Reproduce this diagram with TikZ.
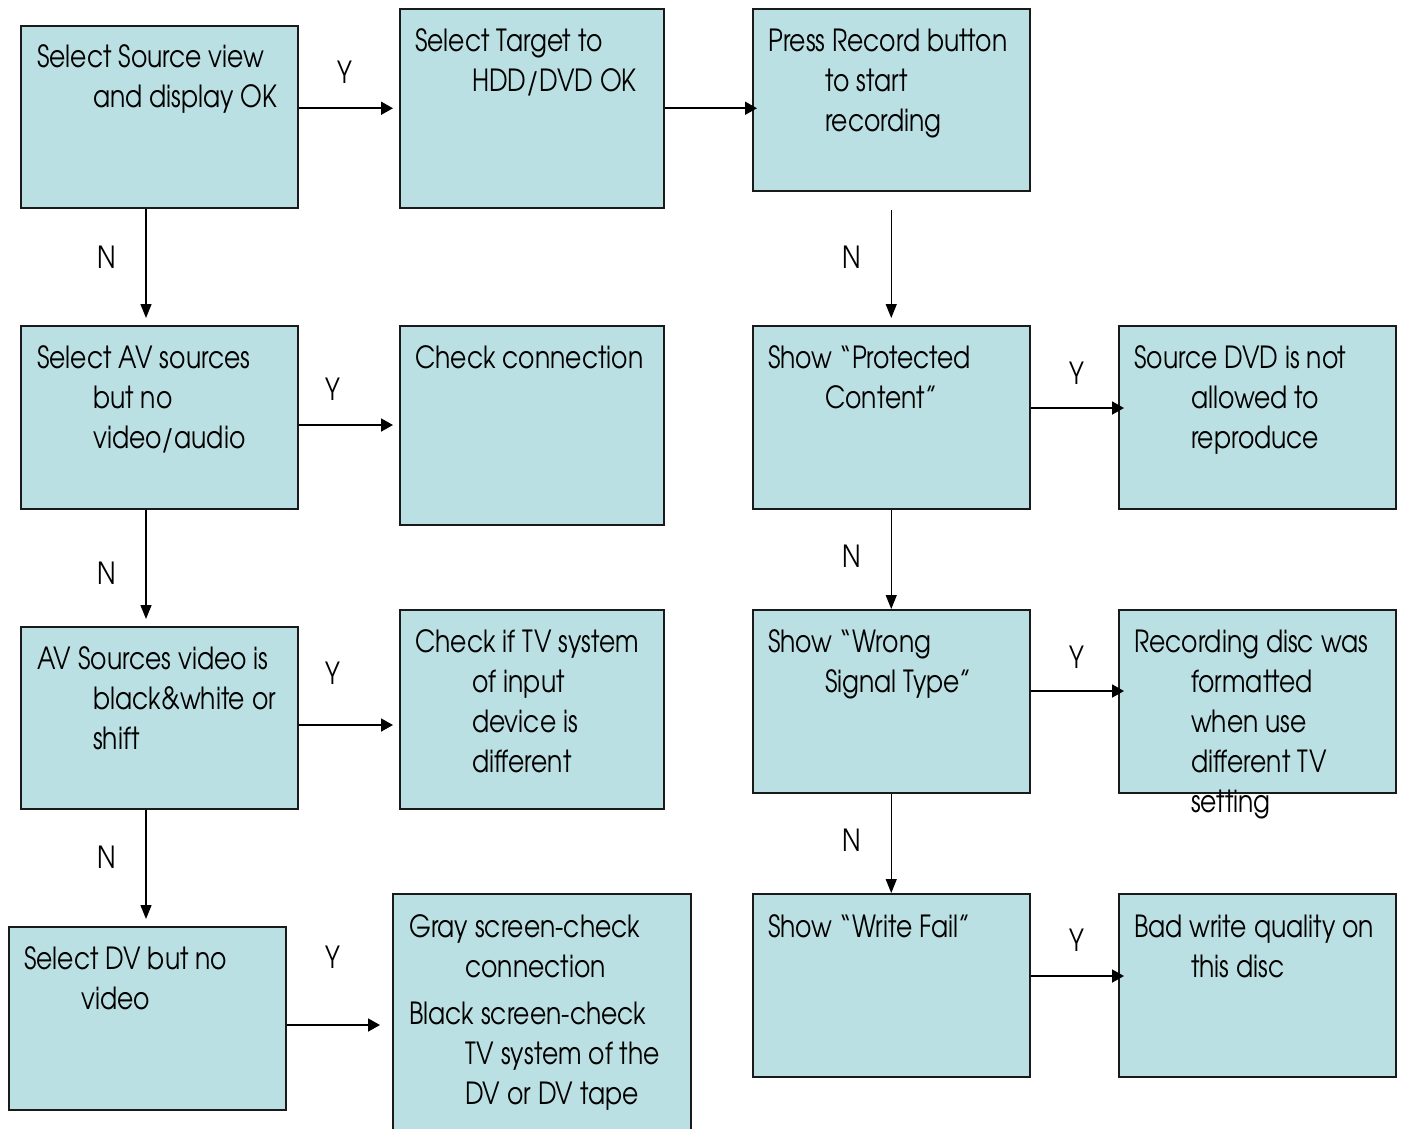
\documentclass[tikz,border=0pt]{standalone}
\usepackage{fontspec}
\setmainfont{TeX Gyre Adventor}[FakeStretch=0.82]
\usetikzlibrary{arrows.meta}
\definecolor{boxfill}{HTML}{BBE0E3}
\definecolor{boxline}{HTML}{1A1A1A}
\tikzset{
  box/.style={draw=boxline, fill=boxfill, line width=1.5pt, inner sep=0pt, anchor=north west},
  txt/.style={anchor=north west, inner sep=0pt, align=left, font=\fontsize{30.5}{40}\selectfont, text=black},
  lbl/.style={inner sep=0pt, font=\fontsize{30.5}{40}\selectfont, text=black},
  harr/.style={draw=black, line width=1.8pt, -{Triangle[length=12pt,width=13pt]}},
  varr/.style={draw=black, line width=1.3pt, -{Triangle[length=14pt,width=11pt]}}
}
\begin{document}
\begin{tikzpicture}[x=1pt,y=-1pt]
\useasboundingbox (0,0) rectangle (1403,1128);
\clip (0,0) rectangle (1403,1128);
% boxes
\node[box, minimum width=277pt, minimum height=182pt] (a1) at (20,25) {};
\node[box, minimum width=264pt, minimum height=199pt] (a2) at (399,8) {};
\node[box, minimum width=277pt, minimum height=182pt] (a3) at (752,8) {};
\node[box, minimum width=277pt, minimum height=183pt] (b1) at (20,325) {};
\node[box, minimum width=264pt, minimum height=199pt] (b2) at (399,325) {};
\node[box, minimum width=277pt, minimum height=183pt] (b3) at (752,325) {};
\node[box, minimum width=277pt, minimum height=183pt] (b4) at (1118,325) {};
\node[box, minimum width=277pt, minimum height=182pt] (c1) at (20,626) {};
\node[box, minimum width=264pt, minimum height=199pt] (c2) at (399,609) {};
\node[box, minimum width=277pt, minimum height=183pt] (c3) at (752,609) {};
\node[box, minimum width=277pt, minimum height=183pt] (c4) at (1118,609) {};
\node[box, minimum width=277pt, minimum height=183pt] (d1) at (8,926) {};
\node[box, minimum width=298pt, minimum height=250pt] (d2) at (392,893) {};
\node[box, minimum width=277pt, minimum height=183pt] (d3) at (752,893) {};
\node[box, minimum width=277pt, minimum height=183pt] (d4) at (1118,893) {};
% texts
\node[txt] (a1t) at (37,39) {\strut Select Source view\\\hspace*{56pt}and display OK};
\node[txt] (a2t) at (415,23) {\strut Select Target to\\\hspace*{57pt}HDD/DVD OK};
\node[txt] (a3t) at (768,23) {\strut Press Record button\\\hspace*{57pt}to start\\\hspace*{57pt}recording};
\node[txt] (b1t) at (37,340) {\strut Select AV sources\\\hspace*{56pt}but no\\\hspace*{56pt}video/audio};
\node[txt] (b2t) at (415,340) {\strut Check connection};
\node[txt] (b3t) at (768,340) {\strut Show “Protected\\\hspace*{57pt}Content”};
\node[txt] (b4t) at (1134,340) {\strut Source DVD is not\\\hspace*{57pt}allowed to\\\hspace*{57pt}reproduce};
\node[txt] (c1t) at (37,641) {\strut AV Sources video is\\\hspace*{56pt}black\&white or\\\hspace*{56pt}shift};
\node[txt] (c2t) at (415,624) {\strut Check if TV system\\\hspace*{57pt}of input\\\hspace*{57pt}device is\\\hspace*{57pt}different};
\node[txt] (c3t) at (768,624) {\strut Show “Wrong\\\hspace*{57pt}Signal Type”};
\node[txt] (c4t) at (1134,624) {\strut Recording disc was\\\hspace*{57pt}formatted\\\hspace*{57pt}when use\\\hspace*{57pt}different TV\\\hspace*{57pt}setting};
\node[txt] (d1t) at (24,941) {\strut Select DV but no\\\hspace*{57pt}video};
\node[txt] (d2t) at (409,909) {\strut Gray screen-check\\\hspace*{56pt}connection\\[7pt]Black screen-check\\\hspace*{56pt}TV system of the\\\hspace*{56pt}DV or DV tape};
\node[txt] (d3t) at (768,909) {\strut Show “Write Fail”};
\node[txt] (d4t) at (1134,909) {\strut Bad write quality on\\\hspace*{57pt}this disc};
% horizontal connectors (Y)
\draw[harr, shorten >=6pt] (a1.east |- a2.west) -- (a2.west);
\draw[harr, shorten >=-5pt] (a2.east) -- (a2.east -| a3.west);
\draw[harr, shorten >=6pt] (b1.east |- 0,425) -- (b2.west |- 0,425);
\draw[harr, shorten >=6pt] (c1.east |- 0,725) -- (c2.west |- 0,725);
\draw[harr, shorten >=12pt] (d1.east |- 0,1025) -- (d2.west |- 0,1025);
\draw[harr, shorten >=-6pt] (b3.east |- 0,408) -- (b4.west |- 0,408);
\draw[harr, shorten >=-6pt] (c3.east |- 0,691) -- (c4.west |- 0,691);
\draw[harr, shorten >=-6pt] (d3.east |- 0,976) -- (d4.west |- 0,976);
% vertical connectors (N)
\draw[varr, shorten >=7pt] (146,0 |- a1.south) -- (146,0 |- b1.north);
\draw[varr, shorten >=7pt] (146,0 |- b1.south) -- (146,0 |- c1.north);
\draw[varr, shorten >=7pt] (146,0 |- c1.south) -- (146,0 |- d1.north);
\draw[varr, shorten <=18pt, shorten >=7pt] (a3.south) -- (a3.south |- b3.north);
\draw[varr] (b3.south) -- (b3.south |- c3.north);
\draw[varr] (c3.south) -- (c3.south |- d3.north);
% labels
\node[lbl] (ly1) at (345,72) {Y};
\node[lbl] (ly2) at (333,389) {Y};
\node[lbl] (ly3) at (333,673) {Y};
\node[lbl] (ly4) at (333,957) {Y};
\node[lbl] (ly5) at (1077,373) {Y};
\node[lbl] (ly6) at (1077,657) {Y};
\node[lbl] (ly7) at (1077,940) {Y};
\node[lbl] (ln1) at (107,257) {N};
\node[lbl] (ln2) at (107,573) {N};
\node[lbl] (ln3) at (107,857) {N};
\node[lbl] (ln4) at (852,257) {N};
\node[lbl] (ln5) at (852,556) {N};
\node[lbl] (ln6) at (852,840) {N};
\end{tikzpicture}
\end{document}
